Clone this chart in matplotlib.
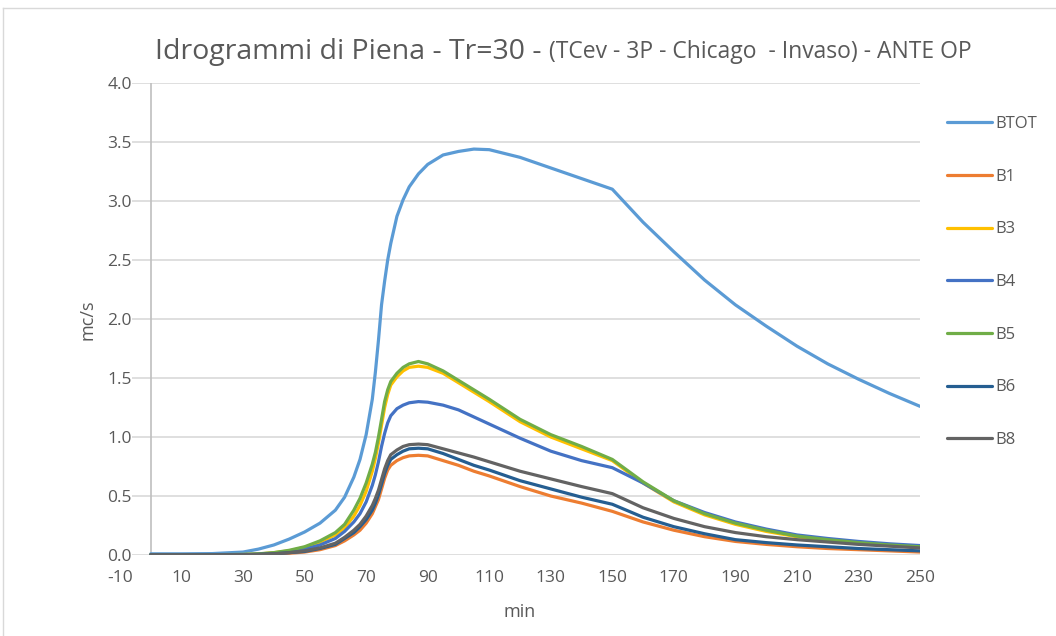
import matplotlib
matplotlib.use("Agg")
import matplotlib.pyplot as plt
from matplotlib.lines import Line2D

# minutes
t = [0, 10, 20, 30, 35, 40, 45, 50, 55, 60, 63, 66, 68, 70, 72, 73, 74, 75, 76, 77, 78,
     80, 82, 84, 87, 90, 95, 100, 105, 110, 120, 130, 140, 150, 160, 170, 180, 190, 200,
     210, 220, 230, 240, 250]

btot = [0.01, 0.01, 0.012, 0.025, 0.05, 0.085, 0.135, 0.195, 0.27, 0.38, 0.49, 0.66, 0.81, 1.02,
        1.32, 1.55, 1.82, 2.12, 2.32, 2.50, 2.64, 2.87, 3.01, 3.12, 3.23, 3.31, 3.39, 3.42,
        3.44, 3.435, 3.37, 3.28, 3.19, 3.10, 2.82, 2.57, 2.33, 2.12, 1.94, 1.77, 1.62, 1.49,
        1.37, 1.26]
b1 = [0.002, 0.002, 0.002, 0.003, 0.005, 0.008, 0.015, 0.025, 0.045, 0.08, 0.12, 0.17, 0.21,
      0.27, 0.35, 0.41, 0.47, 0.56, 0.65, 0.72, 0.76, 0.80, 0.825, 0.84, 0.845, 0.84, 0.80,
      0.76, 0.71, 0.67, 0.58, 0.50, 0.44, 0.37, 0.28, 0.21, 0.155, 0.115, 0.09, 0.07, 0.055,
      0.045, 0.035, 0.025]
b3 = [0.002, 0.002, 0.002, 0.004, 0.008, 0.02, 0.035, 0.065, 0.11, 0.17, 0.23, 0.33, 0.42,
      0.54, 0.71, 0.82, 0.95, 1.10, 1.25, 1.36, 1.44, 1.51, 1.56, 1.59, 1.60, 1.59, 1.54,
      1.46, 1.38, 1.30, 1.13, 1.00, 0.90, 0.80, 0.61, 0.45, 0.34, 0.26, 0.20, 0.155, 0.125,
      0.10, 0.08, 0.065]
b4 = [0.002, 0.002, 0.002, 0.003, 0.007, 0.015, 0.03, 0.05, 0.085, 0.14, 0.20, 0.28, 0.35,
      0.45, 0.59, 0.68, 0.79, 0.92, 1.03, 1.12, 1.18, 1.24, 1.27, 1.29, 1.30, 1.295, 1.27,
      1.23, 1.17, 1.11, 0.99, 0.88, 0.80, 0.74, 0.61, 0.46, 0.36, 0.28, 0.22, 0.17, 0.14,
      0.115, 0.095, 0.08]
b5 = [0.002, 0.002, 0.003, 0.005, 0.01, 0.02, 0.04, 0.07, 0.12, 0.19, 0.26, 0.38, 0.48,
      0.61, 0.77, 0.87, 1.00, 1.15, 1.30, 1.40, 1.47, 1.54, 1.59, 1.62, 1.64, 1.62, 1.56,
      1.48, 1.40, 1.32, 1.15, 1.02, 0.92, 0.81, 0.62, 0.46, 0.35, 0.27, 0.21, 0.16, 0.13,
      0.105, 0.085, 0.07]
b6 = [0.002, 0.002, 0.002, 0.003, 0.005, 0.01, 0.02, 0.03, 0.055, 0.09, 0.14, 0.19, 0.24,
      0.30, 0.38, 0.44, 0.51, 0.60, 0.69, 0.76, 0.81, 0.85, 0.88, 0.90, 0.905, 0.90, 0.86,
      0.81, 0.76, 0.72, 0.63, 0.56, 0.49, 0.43, 0.32, 0.24, 0.18, 0.13, 0.105, 0.085, 0.07,
      0.055, 0.045, 0.035]
b8 = [0.002, 0.002, 0.002, 0.003, 0.005, 0.01, 0.02, 0.035, 0.06, 0.10, 0.15, 0.21, 0.26,
      0.33, 0.42, 0.48, 0.55, 0.64, 0.73, 0.80, 0.85, 0.89, 0.92, 0.935, 0.94, 0.935, 0.90,
      0.865, 0.83, 0.79, 0.71, 0.645, 0.58, 0.52, 0.40, 0.31, 0.24, 0.19, 0.155, 0.13, 0.11,
      0.09, 0.075, 0.06]

names = ["BTOT", "B1", "B3", "B4", "B5", "B6", "B8"]
colors = ["#5B9BD5", "#ED7D31", "#FFC000", "#4472C4", "#70AD47", "#255E91", "#636363"]
series = [btot, b1, b3, b4, b5, b6, b8]

x_ticks = list(range(-10, 251, 20))
y_ticks = [0.0, 0.5, 1.0, 1.5, 2.0, 2.5, 3.0, 3.5, 4.0]

plt.rcParams['font.family'] = ['Open Sans', 'DejaVu Sans']
plt.rcParams['axes.unicode_minus'] = False
txt_col = "#595959"

W, H = 1056, 636
fig = plt.figure(figsize=(W / 100, H / 100), dpi=100)
ax = fig.add_axes([120 / W, 81 / H, 800 / W, 472 / H])

# chart border (left and top visible)
fig.add_artist(Line2D([3 / W, 3 / W], [0, 1 - 8 / H], color="#D9D9D9", lw=1,
                      transform=fig.transFigure))
fig.add_artist(Line2D([3 / W, 1], [1 - 8 / H, 1 - 8 / H], color="#D9D9D9", lw=1,
                      transform=fig.transFigure))

ax.hlines(y_ticks, -6, 250, color="#D9D9D9", lw=1.2, zorder=0)
ax.vlines(0, 0, 4.0, color="#BFBFBF", lw=1.2, zorder=1)

for ys, name, c in zip(series, names, colors):
    ax.plot(t, ys, color=c, lw=2.3, label=name, solid_capstyle="round",
            solid_joinstyle="round", zorder=3)

ax.set_xlim(-10, 250)
ax.set_ylim(0, 4.0)
for s in ax.spines.values():
    s.set_visible(False)
ax.set_xticks(x_ticks)
ax.set_yticks(y_ticks)
ax.set_yticklabels([f"{v:.1f}" for v in y_ticks])
ax.tick_params(axis='both', length=0, labelsize=12.5, labelcolor=txt_col)
ax.tick_params(axis='y', pad=-8.5)
ax.tick_params(axis='x', pad=11)

fig.text(88 / W, 1 - 320 / H, "mc/s", rotation=90, ha='center', va='center',
         fontsize=13, color=txt_col)
fig.text(520 / W, 1 - 612 / H, "min", ha='center', va='center', fontsize=13, color=txt_col)

# title in two sizes
t1 = fig.text(155 / W, 1 - 52 / H, "Idrogrammi di Piena - Tr=30 - ", ha='left',
              va='center', fontsize=20.5, color=txt_col)
fig.canvas.draw()
bb = t1.get_window_extent()
fig.text(bb.x1 / W, 1 - 52 / H, "(TCev - 3P - Chicago  - Invaso) - ANTE OP", ha='left',
         va='center', fontsize=16.5, color=txt_col)

leg = fig.legend(loc='upper left', bbox_to_anchor=(932 / W, 1 - 101 / H), frameon=False,
                 fontsize=12, handlelength=2.7, handletextpad=0.2, labelspacing=2.2,
                 labelcolor=txt_col)

fig.savefig("out.png", dpi=100)
